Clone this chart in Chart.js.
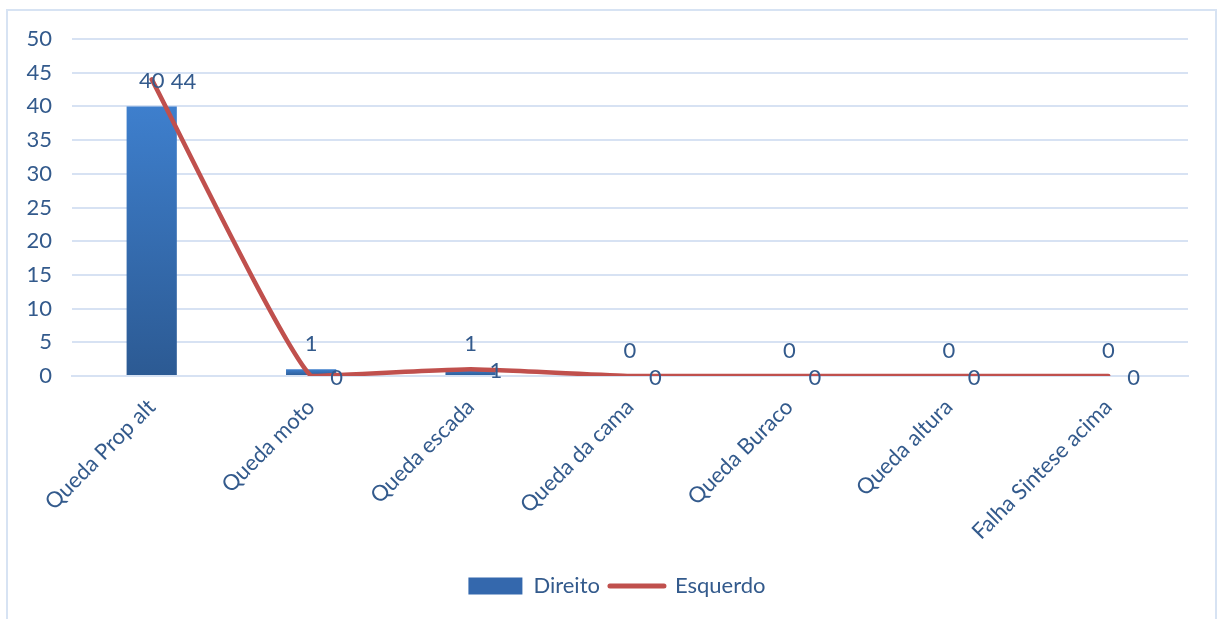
<!DOCTYPE html>
<html>
<head>
<meta charset="utf-8">
<script src="https://cdn.jsdelivr.net/npm/chart.js@4/dist/chart.umd.min.js"></script>
<style>
    html, body { margin: 0; padding: 0; background: #fff; }
    #wrap { position: relative; width: 1219px; height: 619px; }
    #frame {
        position: absolute; left: 6px; top: 9px; width: 1207px; height: 620px;
        border: 2px solid #d7e3f3; pointer-events: none;
    }
    canvas { position: absolute; left: 0; top: 0; }
</style>
</head>
<body>
<div id="wrap">
    <canvas id="chart" width="1219" height="619"></canvas>
    <div id="frame"></div>
</div>
<script>
// Données
const categories = ['Queda Prop alt', 'Queda moto', 'Queda escada', 'Queda da cama', 'Queda Buraco', 'Queda altura', 'Falha Sintese acima'];
const direito = [40, 1, 1, 0, 0, 0, 0];
const esquerdo = [44, 0, 1, 0, 0, 0, 0];
const yMin = 0;
const yMax = 50;
const yStep = 5;

const textColor = '#335a8c';
const gridColor = '#d7e2f3';
const fontFamily = 'Lato, "Open Sans", sans-serif';
const fontSize = 22;

/**
 * Dégradé vertical propre à chaque barre (clair en haut, foncé en bas).
 */
function barGradient(context) {
    const chart = context.chart;
    const yScale = chart.scales.y;
    if (!yScale || context.type !== 'data') return '#3468ad';
    const top = yScale.getPixelForValue(context.raw);
    const bottom = yScale.getPixelForValue(0);
    if (!isFinite(top) || bottom - top < 1) return '#3a74c2';
    const g = chart.ctx.createLinearGradient(0, top, 0, bottom);
    g.addColorStop(0, '#3e7fcd');
    g.addColorStop(1, '#2c5a93');
    return g;
}

// Étiquettes de données (pas de plugin datalabels disponible)
const valueLabels = {
    id: 'valueLabels',
    afterLayout(chart) {
        // décale la légende pour la centrer comme dans l'original
        if (chart.legend) chart.legend.left += 46;
    },
    afterDatasetsDraw(chart) {
        const ctx = chart.ctx;
        ctx.save();
        ctx.font = fontSize + 'px ' + fontFamily;
        ctx.fillStyle = textColor;

        const barMeta = chart.getDatasetMeta(0);
        barMeta.data.forEach((bar, i) => {
            ctx.textAlign = 'center';
            ctx.textBaseline = 'middle';
            ctx.fillText(String(direito[i]), bar.x, bar.y - 25);
        });

        const lineMeta = chart.getDatasetMeta(1);
        lineMeta.data.forEach((pt, i) => {
            ctx.textAlign = 'left';
            ctx.textBaseline = 'middle';
            ctx.fillText(String(esquerdo[i]), pt.x + 19, pt.y + 2);
        });
        ctx.restore();
    }
};

const ctx = document.getElementById('chart').getContext('2d');

new Chart(ctx, {
    type: 'bar',
    data: {
        labels: categories,
        datasets: [
            {
                type: 'bar',
                label: 'Direito',
                data: direito,
                backgroundColor: barGradient,
                borderWidth: 0,
                categoryPercentage: 1,
                barPercentage: 0.315,
                order: 2
            },
            {
                type: 'line',
                label: 'Esquerdo',
                data: esquerdo,
                borderColor: '#c0504d',
                backgroundColor: '#c0504d',
                borderWidth: 4.5,
                borderCapStyle: 'round',
                borderJoinStyle: 'round',
                tension: 0.12,
                pointRadius: 0,
                pointHoverRadius: 0,
                fill: false,
                order: 1
            }
        ]
    },
    plugins: [valueLabels],
    options: {
        responsive: false,
        animation: false,
        layout: {
            padding: { top: 39, right: 31, bottom: 12, left: 0 }
        },
        scales: {
            x: {
                offset: true,
                grid: { display: false, drawTicks: false },
                border: { display: true, color: gridColor, width: 2 },
                ticks: {
                    color: textColor,
                    font: { family: fontFamily, size: fontSize },
                    minRotation: 45,
                    maxRotation: 45,
                    autoSkip: false,
                    padding: 18
                },
                afterFit(scale) { scale.height = 189; }
            },
            y: {
                min: yMin,
                max: yMax,
                grid: { color: gridColor, lineWidth: 2, drawTicks: false },
                border: { display: false },
                ticks: {
                    stepSize: yStep,
                    color: textColor,
                    font: { family: fontFamily, size: fontSize },
                    padding: 20
                },
                afterFit(scale) { scale.width = 72; }
            }
        },
        plugins: {
            tooltip: { enabled: false },
            legend: {
                position: 'bottom',
                labels: {
                    color: textColor,
                    font: { family: fontFamily, size: fontSize },
                    usePointStyle: true,
                    pointStyleWidth: 54,
                    boxHeight: 17,
                    padding: 10,
                    sort: (a, b) => a.datasetIndex - b.datasetIndex,
                    generateLabels(chart) {
                        const items = Chart.defaults.plugins.legend.labels.generateLabels(chart);
                        items.forEach(item => {
                            if (item.datasetIndex === 0) {
                                item.pointStyle = 'rect';
                                item.fillStyle = '#3468ad';
                                item.strokeStyle = '#3468ad';
                                item.lineWidth = 0;
                            } else {
                                item.pointStyle = 'line';
                                item.strokeStyle = '#c0504d';
                                item.lineWidth = 5;
                                item.lineCap = 'round';
                            }
                        });
                        return items;
                    }
                }
            }
        }
    }
});
</script>
</body>
</html>
